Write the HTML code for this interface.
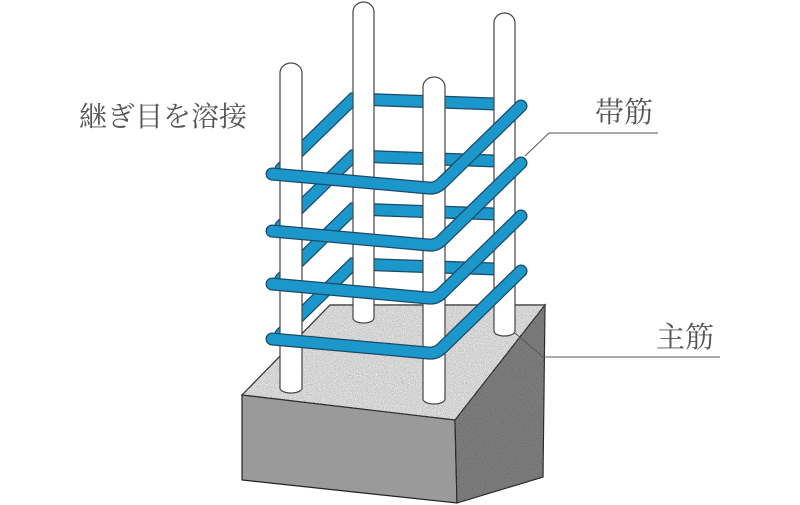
<!DOCTYPE html>
<html><head><meta charset="utf-8"><style>
html,body{margin:0;padding:0;background:#fff}
svg{display:block}
text{font-family:"Liberation Serif","Noto Serif CJK SC",serif;fill:#555}
</style></head><body>
<svg width="800" height="505" viewBox="0 0 800 505" xmlns="http://www.w3.org/2000/svg">
<defs>
<filter id="sp" x="0" y="0" width="100%" height="100%">
<feTurbulence type="fractalNoise" baseFrequency="0.9" numOctaves="1" seed="3"/>
<feColorMatrix values="0 0 0 0 0.35  0 0 0 0 0.35  0 0 0 0 0.35  0 0 0 -12 6.8"/>
<feComposite in2="SourceGraphic" operator="in"/>
</filter>
<g id="back"><polyline points="281,169 353,99 496,104" fill="none"/></g>
<g id="front"><path d="M272,174 L428,188 Q436,189 442,183 L521,106" fill="none"/></g>
</defs>
<!-- block -->
<polygon points="242,395 330,305 545,305 455,420" fill="#e2e2e2" stroke="#222" stroke-width="1.2"/>
<polygon points="242,395 455,420 457,503 242,480" fill="#9a9a9a" stroke="#222" stroke-width="1.2"/>
<polygon points="455,420 545,305 543,477 457,503" fill="#727272" stroke="#222" stroke-width="1.2"/>
<polygon points="242,395 330,305 545,305 455,420" fill="#fff" filter="url(#sp)" opacity="0.35"/>
<polygon points="455,420 545,305 543,477 457,503" fill="#fff" filter="url(#sp)" opacity="0.25"/>
<!-- back hoop edges -->
<g stroke-linecap="round">
<g stroke="#1a4a66" stroke-width="13">
<use href="#back"/><use href="#back" y="57"/><use href="#back" y="110"/><use href="#back" y="165"/>
</g>
<g stroke="#1b97cc" stroke-width="10.5">
<use href="#back"/><use href="#back" y="57"/><use href="#back" y="110"/><use href="#back" y="165"/>
</g>
</g>
<!-- bars -->
<g fill="#fff" stroke="#444" stroke-width="1.2">
<path d="M353,12 A10.5,10 0 0 1 374,12 L374,318 A10.5,5 0 0 1 353,318 Z"/>
<path d="M494,23 A10.5,10 0 0 1 515,23 L515,331 A10.5,5 0 0 1 494,331 Z"/>
<path d="M280,73 A11,10 0 0 1 302,73 L302,388 A11,5 0 0 1 280,388 Z"/>
<path d="M423,87 A11,10 0 0 1 445,87 L445,399 A11,5 0 0 1 423,399 Z"/>
</g>
<!-- front hoop -->
<g stroke-linecap="round" stroke-linejoin="round">
<g stroke="#1a4a66" stroke-width="13">
<use href="#front"/><use href="#front" y="57"/><use href="#front" y="110"/><use href="#front" y="165"/>
</g>
<g stroke="#1b97cc" stroke-width="10.5">
<use href="#front"/><use href="#front" y="57"/><use href="#front" y="110"/><use href="#front" y="165"/>
</g>
</g>
<!-- leaders -->
<polyline points="525,156 549,133 658,133" fill="none" stroke="#555" stroke-width="1"/>
<polyline points="515,333 543,357 720,357" fill="none" stroke="#555" stroke-width="1"/>
<text x="79" y="126" font-size="28">継ぎ目を溶接</text>
<text x="595" y="122" font-size="29">帯筋</text>
<text x="656" y="347" font-size="29">主筋</text>
</svg>
</body></html>
